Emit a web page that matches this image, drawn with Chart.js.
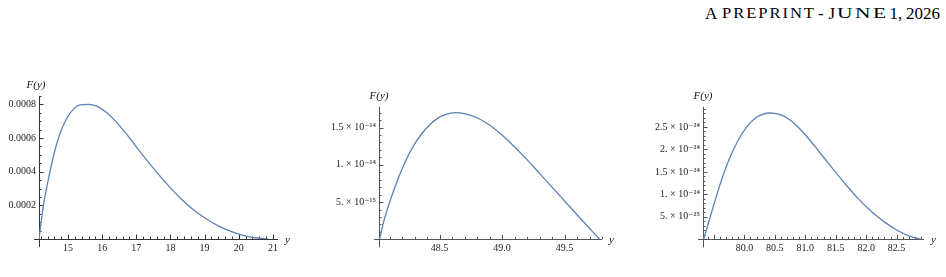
<!DOCTYPE html>
<html><head><meta charset="utf-8">
<script src="https://cdn.jsdelivr.net/npm/chart.js@4"></script>
<style>
html,body{margin:0;padding:0;background:#fff;width:946px;height:277px;overflow:hidden;}
body{position:relative;}
.hp{position:absolute;font-family:'Liberation Serif','Times New Roman',serif;color:#000;white-space:nowrap;transform-origin:0 0;}
canvas{position:absolute;}
</style></head><body>
<div id="hdr"></div>
<canvas id="c1" width="320" height="227" style="left:0px;top:50px"></canvas>
<canvas id="c2" width="310" height="227" style="left:320px;top:50px"></canvas>
<canvas id="c3" width="316" height="227" style="left:630px;top:50px"></canvas>
<script>
// ---------- data ----------
const panel1X = [14.15, 14.21, 14.28, 14.42, 14.57, 14.77, 14.96, 15.16, 15.35, 15.6, 15.84, 16.13, 16.43, 16.72, 17.0, 17.3, 17.6, 18.0, 18.3, 18.6, 19.0, 19.4, 19.75, 20.0, 20.25, 20.5, 20.85];
const panel1Y = [0, 0.000095, 0.0002, 0.00035, 0.00049, 0.00063, 0.000716, 0.000772, 0.000797, 0.0008, 0.00079, 0.000752, 0.000692, 0.000622, 0.000548, 0.00047, 0.000396, 0.000304, 0.000241, 0.000186, 0.000126, 0.000078, 0.0000465, 0.000029, 0.000016, 0.0000075, 0];
const panel1XTicks = [15, 16, 17, 18, 19, 20, 21];
const panel1XTickLabels = ['15', '16', '17', '18', '19', '20', '21'];
const panel1YTicks = [0.0002, 0.0004, 0.0006, 0.0008];
const panel1YTickLabels = ['0.0002', '0.0004', '0.0006', '0.0008'];

const panel2X = [48.02, 48.05, 48.09, 48.145, 48.21, 48.28, 48.35, 48.43, 48.51, 48.59, 48.63, 48.7, 48.8, 48.9, 49.0, 49.1, 49.2, 49.3, 49.4, 49.5, 49.6, 49.7, 49.78];
const panel2Y = [0, 2.15e-15, 4.4e-15, 7.1e-15, 9.8e-15, 1.22e-14, 1.40e-14, 1.55e-14, 1.65e-14, 1.695e-14, 1.70e-14, 1.688e-14, 1.632e-14, 1.535e-14, 1.40e-14, 1.243e-14, 1.07e-14, 8.85e-15, 7.0e-15, 5.15e-15, 3.3e-15, 1.48e-15, 0];
const panel2XTicks = [48.5, 49.0, 49.5];
const panel2XTickLabels = ['48.5', '49.0', '49.5'];
const panel2YTicks = [5e-15, 1e-14, 1.5e-14];
const panel2YTickLabels = ['5. \u00d7 10\u207b\u00b9\u2075', '1. \u00d7 10\u207b\u00b9\u2074', '1.5 \u00d7 10\u207b\u00b9\u2074'];

const panel3X = [79.33, 79.415, 79.50, 79.61, 79.74, 79.88, 80.02, 80.18, 80.30, 80.42, 80.5, 80.6, 80.7, 80.8, 80.9, 81.0, 81.1, 81.2, 81.44, 81.66, 81.87, 82.09, 82.31, 82.53, 82.75, 82.91];
const panel3Y = [0, 3.9e-25, 7.8e-25, 1.26e-24, 1.75e-24, 2.16e-24, 2.47e-24, 2.70e-24, 2.78e-24, 2.81e-24, 2.802e-24, 2.767e-24, 2.70e-24, 2.60e-24, 2.472e-24, 2.325e-24, 2.165e-24, 1.997e-24, 1.59e-24, 1.225e-24, 9.04e-25, 6.14e-25, 3.76e-25, 1.85e-25, 5.5e-26, 0];
const panel3XTicks = [80.0, 80.5, 81.0, 81.5, 82.0, 82.5];
const panel3XTickLabels = ['80.0', '80.5', '81.0', '81.5', '82.0', '82.5'];
const panel3YTicks = [5e-25, 1e-24, 1.5e-24, 2e-24, 2.5e-24];
const panel3YTickLabels = ['5. \u00d7 10\u207b\u00b2\u2075', '1. \u00d7 10\u207b\u00b2\u2074', '1.5 \u00d7 10\u207b\u00b2\u2074', '2. \u00d7 10\u207b\u00b2\u2074', '2.5 \u00d7 10\u207b\u00b2\u2074'];

// ---------- running header (small caps emulated) ----------
const BIG = 17, SMALL = 14, BASELINE = 19;
const hdrParts = [
  {text: 'A', x0: 705, size: BIG, fit: false},
  {text: 'PREPRINT', x0: 721.5, x1: 813.5, size: SMALL, fit: true},
  {text: '-', x0: 818, size: BIG, fit: false},
  {text: 'J', x0: 828.5, size: BIG, fit: false},
  {text: 'UNE', x0: 836.5, x1: 885.5, size: SMALL, fit: true},
  {text: '1,', x0: 889.5, size: BIG, fit: false},
  {text: '2026', x0: 906, size: BIG, fit: false}
];
const hdr = document.getElementById('hdr');
hdrParts.forEach(p => {
  const d = document.createElement('div');
  d.className = 'hp';
  d.textContent = p.text;
  d.style.fontSize = p.size + 'px';
  d.style.lineHeight = p.size + 'px';
  d.style.left = p.x0 + 'px';
  d.style.top = (BASELINE - p.size * 0.8375) + 'px';
  hdr.appendChild(d);
  if (p.fit) {
    d.style.letterSpacing = '1.6px';
    const w = d.getBoundingClientRect().width - 1.6;
    d.style.transform = 'scaleX(' + ((p.x1 - p.x0) / w) + ')';
  }
});

// ---------- styling / layout ----------
const LINE_COLOR = 'rgb(94,129,181)';
const FONT = "'Liberation Serif','DejaVu Serif','Times New Roman',serif";
Chart.defaults.font.family = FONT;

const mathAxes = {
  id: 'mathAxes',
  beforeDatasetsDraw(chart, args, o) {
    const {ctx, chartArea: a, scales: {x, y}} = chart;
    const y0 = y.getPixelForValue(0);
    const x0 = x.getPixelForValue(x.min);
    ctx.save();
    ctx.strokeStyle = o.color;
    ctx.lineWidth = 1;
    ctx.beginPath();
    ctx.moveTo(x0 - 5, Math.round(y0) + 0.5);
    ctx.lineTo(a.right, Math.round(y0) + 0.5);
    ctx.moveTo(Math.round(x0) + 0.5, a.top);
    ctx.lineTo(Math.round(x0) + 0.5, y0 + 8);
    ctx.stroke();
    ctx.beginPath();
    const xs = Math.ceil((x.min + 1e-9) / o.xMinor);
    for (let k = xs; k * o.xMinor <= x.max + 1e-9; k++) {
      const v = k * o.xMinor;
      const isMajor = Math.abs(v / o.xMajor - Math.round(v / o.xMajor)) < 1e-6;
      const px = Math.round(x.getPixelForValue(v)) + 0.5;
      ctx.moveTo(px, y0);
      ctx.lineTo(px, y0 - (isMajor ? 4.5 : 2.5));
    }
    for (let k = 1; k * o.yMinor <= y.max * (1 + 1e-9); k++) {
      const v = k * o.yMinor;
      const isMajor = Math.abs(v / o.yMajor - Math.round(v / o.yMajor)) < 1e-6;
      const py = Math.round(y.getPixelForValue(v)) + 0.5;
      ctx.moveTo(x0, py);
      ctx.lineTo(x0 + (isMajor ? 4.5 : 2.5), py);
    }
    ctx.stroke();
    ctx.fillStyle = '#111';
    ctx.font = 'italic 11px ' + FONT;
    ctx.textAlign = 'left';
    ctx.textBaseline = 'alphabetic';
    ctx.fillText('y', a.right + 7, y0 + 3.5);
    ctx.textAlign = 'center';
    ctx.fillText('F(y)', x0 + o.fyShift, a.top - 8);
    ctx.restore();
  }
};

function makePanel(id, xs, ys, xTicks, xLabels, yTicks, yLabels, cfg) {
  const el = document.getElementById(id);
  const cx = parseFloat(el.style.left), cy = parseFloat(el.style.top);
  const W = el.width, H = el.height;
  const yAxisW = cfg.plot.l - cx;
  const xAxisH = 20;
  const padTop = cfg.plot.t - cy;
  const padRight = cx + W - cfg.plot.r;
  const padBottom = cy + H - cfg.plot.b - xAxisH;
  const tickFont = {family: FONT, size: 10};
  return new Chart(el, {
    type: 'scatter',
    data: {
      datasets: [{
        data: xs.map((v, i) => ({x: v, y: ys[i]})),
        showLine: true,
        borderColor: LINE_COLOR,
        borderWidth: 1.3,
        pointRadius: 0,
        cubicInterpolationMode: 'monotone',
        fill: false
      }]
    },
    options: {
      responsive: false,
      animation: false,
      events: [],
      layout: {padding: {left: 0, top: padTop, right: padRight, bottom: padBottom}},
      plugins: {legend: {display: false}, tooltip: {enabled: false},
        mathAxes: {color: cfg.axisColor, xMajor: cfg.xMajor, xMinor: cfg.xMinor, yMajor: cfg.yMajor, yMinor: cfg.yMinor, fyShift: cfg.fyShift}},
      scales: {
        x: {
          type: 'linear', min: cfg.xMin, max: cfg.xMax,
          grid: {display: false, drawTicks: false},
          border: {display: false},
          afterBuildTicks: s => { s.ticks = xTicks.map(v => ({value: v})); },
          afterFit: s => { s.height = xAxisH; },
          ticks: {autoSkip: false, maxRotation: 0, padding: 3, color: '#222', font: tickFont,
            callback: (v, i) => xLabels[i]}
        },
        y: {
          type: 'linear', min: 0, max: cfg.yMax,
          grid: {display: false, drawTicks: false},
          border: {display: false},
          afterBuildTicks: s => { s.ticks = yTicks.map(v => ({value: v})); },
          afterFit: s => { s.width = yAxisW; },
          ticks: {autoSkip: false, padding: 3, color: '#222', font: tickFont,
            callback: (v, i) => yLabels[i]}
        }
      }
    },
    plugins: [mathAxes]
  });
}

makePanel('c1', panel1X, panel1Y, panel1XTicks, panel1XTickLabels, panel1YTicks, panel1YTickLabels,
  {plot: {l: 39, r: 278, t: 96, b: 239}, xMin: 14.15, xMax: 21.15, yMax: 0.00085,
   xMajor: 1, xMinor: 0.2, yMajor: 0.0002, yMinor: 0.00005, axisColor: '#333', fyShift: -3});
makePanel('c2', panel2X, panel2Y, panel2XTicks, panel2XTickLabels, panel2YTicks, panel2YTickLabels,
  {plot: {l: 379, r: 602, t: 106.7, b: 239.3}, xMin: 48.016, xMax: 49.8, yMax: 1.78e-14,
   xMajor: 0.5, xMinor: 0.1, yMajor: 5e-15, yMinor: 1e-15, axisColor: '#555', fyShift: 0});
makePanel('c3', panel3X, panel3Y, panel3XTicks, panel3XTickLabels, panel3YTicks, panel3YTickLabels,
  {plot: {l: 703, r: 924, t: 106.7, b: 239.3}, xMin: 79.32, xMax: 82.95, yMax: 2.95e-24,
   xMajor: 0.5, xMinor: 0.1, yMajor: 5e-25, yMinor: 1e-25, axisColor: '#555', fyShift: 0});
</script>
</body></html>
